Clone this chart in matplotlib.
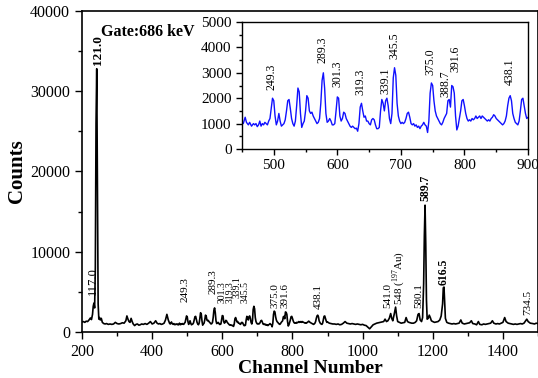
import matplotlib
matplotlib.use("Agg")
import matplotlib.pyplot as plt
from matplotlib.ticker import MultipleLocator

plt.rcParams['font.family'] = ['Liberation Serif', 'DejaVu Serif']
plt.rcParams['mathtext.fontset'] = 'custom'
plt.rcParams['mathtext.rm'] = 'Liberation Serif'
plt.rcParams['mathtext.bf'] = 'Liberation Serif:bold'

# ---------------- data ----------------
channel = [
    200, 204, 208, 212, 216, 220, 224, 227, 230, 232, 234, 236, 238, 240, 242, 244, 246, 248, 250, 252,
    255, 258, 262, 266, 270, 275, 280, 285, 290, 295, 300, 305, 310, 315, 320, 325, 328, 331, 334, 337,
    340, 343, 346, 350, 354, 358, 362, 366, 370, 375, 380, 385, 390, 395, 400, 405, 410, 414, 418, 422,
    426, 430, 434, 438, 442, 446, 450,
    452, 455, 457, 460, 462, 465, 468, 470, 472, 474, 476, 478, 480, 482, 484, 486, 488, 490, 492, 494,
    496, 498, 500, 502, 504, 506, 508, 510, 512, 514, 516, 518, 520, 522, 524, 526, 528, 530, 532, 534,
    536, 538, 540, 542, 544, 546, 548, 550, 552, 554, 556, 558, 560, 562, 564, 566, 568, 570, 572, 574,
    576, 578, 580, 582, 584, 586, 588, 590, 592, 594, 596, 598, 600, 602, 604, 606, 608, 610, 612, 614,
    616, 618, 620, 622, 624, 626, 628, 630, 632, 634, 636, 638, 640, 642, 644, 646, 648, 650, 652, 654,
    656, 658, 660, 662, 664, 666, 668, 670, 672, 674, 676, 678, 680, 682, 684, 686, 688, 690, 692, 694,
    696, 698, 700, 702, 704, 706, 708, 710, 712, 714, 716, 718, 720, 722, 724, 726, 728, 730, 732, 734,
    736, 738, 740, 742, 744, 746, 748, 750, 752, 754, 756, 758, 760, 762, 764, 766, 768, 770, 772, 774,
    776, 778, 780, 782, 784, 786, 788, 790, 792, 794, 796, 798, 800, 802, 804, 806, 808, 810, 812, 814,
    816, 818, 820, 822, 824, 826, 828, 830, 832, 834, 836, 838, 840, 842, 844, 846, 848, 850, 852, 854,
    856, 858, 860, 862, 864, 866, 868, 870, 872, 874, 876, 878, 880, 882, 884, 886, 888, 890, 892, 894,
    896, 898, 900,
    905, 910, 915, 920, 925, 930, 935, 940, 945, 950, 955, 960, 965, 970, 975, 980, 985, 990, 995, 1000,
    1005, 1010, 1015, 1020, 1025, 1030, 1035, 1040, 1045, 1050, 1055, 1060, 1064, 1068, 1072, 1076, 1080,
    1083, 1086, 1090, 1094, 1097, 1100, 1105, 1110, 1115, 1120, 1124, 1128, 1132, 1136, 1140, 1145, 1150,
    1154, 1158, 1161, 1164, 1168, 1171, 1174, 1176, 1178, 1180, 1182, 1184, 1187, 1190, 1193, 1196, 1200,
    1205, 1210, 1215, 1220, 1224, 1228, 1230, 1232, 1234, 1236, 1240, 1245, 1250, 1255, 1260, 1265, 1270,
    1275, 1280, 1284, 1290, 1295, 1300, 1305, 1310, 1314, 1320, 1325, 1330, 1334, 1340, 1345, 1350, 1355,
    1360, 1365, 1370, 1374, 1380, 1385, 1390, 1395, 1400, 1405, 1409, 1415, 1420, 1425, 1430, 1435, 1440,
    1445, 1450, 1455, 1460, 1465, 1468, 1472, 1478, 1485, 1490, 1495, 1500,
]
counts = [
    1250, 1300, 1200, 1350, 1300, 1500, 1750, 1550, 2200, 3200, 3600, 3000, 8000, 26000, 32800, 17000, 3500, 1600, 1800, 1500,
    1700, 1200, 1050, 1000, 1050, 950, 1000, 950, 1000, 1200, 1050, 1000, 1050, 1150, 1100, 1400, 2000, 1600, 1300, 1200,
    1700, 1300, 1000, 800, 950, 1000, 850, 900, 1000, 950, 1050, 950, 1100, 1300, 1000, 1100, 1400, 1100, 1000, 1050,
    950, 1000, 1100, 1500, 2200, 1500, 1050,
    1000, 1250, 1050, 950, 1050, 900, 1000, 950, 1000, 880, 950, 1100, 900, 1000, 950, 1050, 1000, 950, 1100, 1200,
    1600, 2000, 1900, 1300, 950, 1100, 1400, 1100, 900, 950, 1000, 1150, 1500, 1900, 1950, 1600, 1200, 1000, 900, 1100,
    1700, 2400, 2250, 1400, 850, 1000, 1100, 1500, 2100, 2000, 1500, 1400, 1450, 1300, 1200, 1100, 1000, 1050, 1200, 1800,
    2700, 3000, 2400, 1400, 1050, 1100, 1200, 1100, 950, 950, 1000, 1500, 2050, 2000, 1300, 1100, 1200, 1450, 1400, 1200,
    1100, 1000, 900, 850, 900, 850, 800, 820, 700, 1000, 1650, 1800, 1500, 1250, 1300, 1100, 1100, 1000, 950, 1150,
    1200, 1150, 950, 800, 800, 850, 1500, 1950, 1800, 1500, 1900, 2000, 1700, 1200, 1000, 1400, 2800, 3200, 2900, 1800,
    1300, 1100, 1000, 1050, 1000, 1050, 1200, 1400, 1450, 1250, 1000, 950, 1000, 900, 950, 850, 900, 800, 900, 950,
    1050, 950, 900, 650, 1100, 2200, 2600, 2500, 1900, 1500, 1300, 1200, 1100, 1000, 950, 1050, 1200, 1300, 1400, 1900,
    1950, 1650, 2500, 2450, 2200, 1300, 750, 900, 1200, 1500, 1900, 1950, 1700, 1400, 1200, 1100, 1150, 1100, 1200, 1150,
    1200, 1300, 1200, 1250, 1300, 1200, 1300, 1250, 1200, 1150, 1100, 1150, 1100, 1200, 1250, 1350, 1300, 1200, 1150, 1100,
    1050, 1000, 950, 1000, 1100, 1300, 1700, 2000, 2100, 1900, 1400, 1200, 1050, 1000, 950, 1100, 1500, 1950, 2000, 1700,
    1400, 1200, 1250,
    1100, 1050, 1000, 1000, 950, 1000, 900, 950, 1100, 1300, 1100, 1050, 1000, 1050, 1000, 950, 1000, 950, 900, 950,
    850, 800, 600, 400, 650, 900, 1000, 1100, 1150, 1200, 1250, 1300, 1600, 1300, 1400, 1700, 2300,
    1700, 1400, 2200, 3100, 2000, 1300, 1200, 1100, 1150, 1200, 1800, 1300, 1200, 1150, 1100, 1100, 1200,
    1400, 2200, 2300, 1500, 1300, 1800, 6000, 12000, 15800, 11000, 4000, 1600, 1700, 2100, 1800, 1400, 1300,
    1200, 1250, 1300, 1500, 2000, 3500, 5500, 5600, 3500, 1700, 1200, 1100, 1050, 1000, 1050, 1000, 1050,
    1100, 1500, 1100, 1000, 1050, 1100, 1150, 1400, 1050, 1000, 900, 1300, 950, 900, 1000, 950, 1000,
    1050, 1100, 1400, 1100, 1000, 1050, 1000, 1100, 1200, 1800, 1300, 1100, 1050, 1000, 950, 1000, 950,
    1000, 1050, 1000, 1100, 1400, 1600, 1300, 1100, 1050, 1000, 1100, 1050,
]

# main-panel peak labels: text, channel, bottom of label (counts), fontsize, bold
main_labels = ['117.0', '121.0', '249.3', '289.3', '301.3', '319.3', '339.1', '345.5',
               '375.0', '391.6', '438.1', '541.0', r'548 ($^{197}$Au)', '580.1', '589.7',
               '616.5', '734.5']
main_label_x = [231, 245, 493, 573, 598, 621, 643, 665, 749, 780, 874, 1071, 1104, 1159, 1178, 1232, 1472]
main_label_y = [4600, 33300, 3740, 4730, 3600, 3600, 4240, 3600, 3000, 3000, 2870, 3000, 3360, 3000,
                16300, 5860, 2100]
main_label_size = [9, 9.5, 8, 8, 7, 7, 7, 7, 8, 8, 8, 8, 8, 8, 8.5, 8.5, 8]
main_label_bold = [False, True, False, False, False, False, False, False, False, False, False, False,
                   False, False, True, True, False]

# inset peak labels
inset_labels = ['249.3', '289.3', '301.3', '319.3', '339.1', '345.5', '375.0', '388.7', '391.6', '438.1']
inset_label_x = [497, 577, 600, 636, 675, 690, 747, 770, 786, 872]
inset_label_y = [2320, 3390, 2440, 2130, 2170, 3540, 2910, 2050, 3030, 2520]

# ---------------- figure ----------------
fig = plt.figure(figsize=(5.38, 3.78), dpi=100)
ax = fig.add_axes([82 / 538, 46 / 378, 456 / 538, 321 / 378])
ax.plot(channel, counts, color='black', lw=1.2)
ax.set_xlim(200, 1500)
ax.set_ylim(0, 40000)
ax.xaxis.set_major_locator(MultipleLocator(200))
ax.xaxis.set_minor_locator(MultipleLocator(100))
ax.yaxis.set_major_locator(MultipleLocator(10000))
ax.yaxis.set_minor_locator(MultipleLocator(5000))
ax.tick_params(which='major', direction='out', length=5, width=1, labelsize=11.5, top=False, right=False)
ax.tick_params(which='minor', direction='out', length=3, width=1, top=False, right=False)
for s in ax.spines.values():
    s.set_linewidth(1.2)
ax.set_xlabel('Channel Number', fontsize=14, fontweight='bold', labelpad=0)
ax.set_ylabel('Counts', fontsize=15, fontweight='bold', labelpad=2)

for t, x, y, fs, b in zip(main_labels, main_label_x, main_label_y, main_label_size, main_label_bold):
    ax.text(x, y, t, rotation=90, ha='center', va='bottom', fontsize=fs,
            fontweight='bold' if b else 'normal')

ax.text(0.042, 0.935, 'Gate:686 keV', transform=ax.transAxes, fontsize=11.5,
        fontweight='bold', ha='left', va='center')

# inset
axi = fig.add_axes([242 / 538, 229 / 378, 286 / 538, 127 / 378])
axi.plot(channel, counts, color='#1010ff', lw=1.0)
axi.set_xlim(450, 900)
axi.set_ylim(0, 5000)
axi.xaxis.set_major_locator(MultipleLocator(100))
axi.xaxis.set_minor_locator(MultipleLocator(50))
axi.yaxis.set_major_locator(MultipleLocator(1000))
axi.yaxis.set_minor_locator(MultipleLocator(500))
axi.tick_params(which='major', direction='out', length=4, width=1, labelsize=11, top=False, right=False)
axi.tick_params(which='minor', direction='out', length=2.5, width=1, top=False, right=False)
for s in axi.spines.values():
    s.set_linewidth(1.0)
for t, x, y in zip(inset_labels, inset_label_x, inset_label_y):
    axi.text(x, y, t, rotation=90, ha='center', va='bottom', fontsize=8.5)

fig.savefig('out.png', dpi=100)
